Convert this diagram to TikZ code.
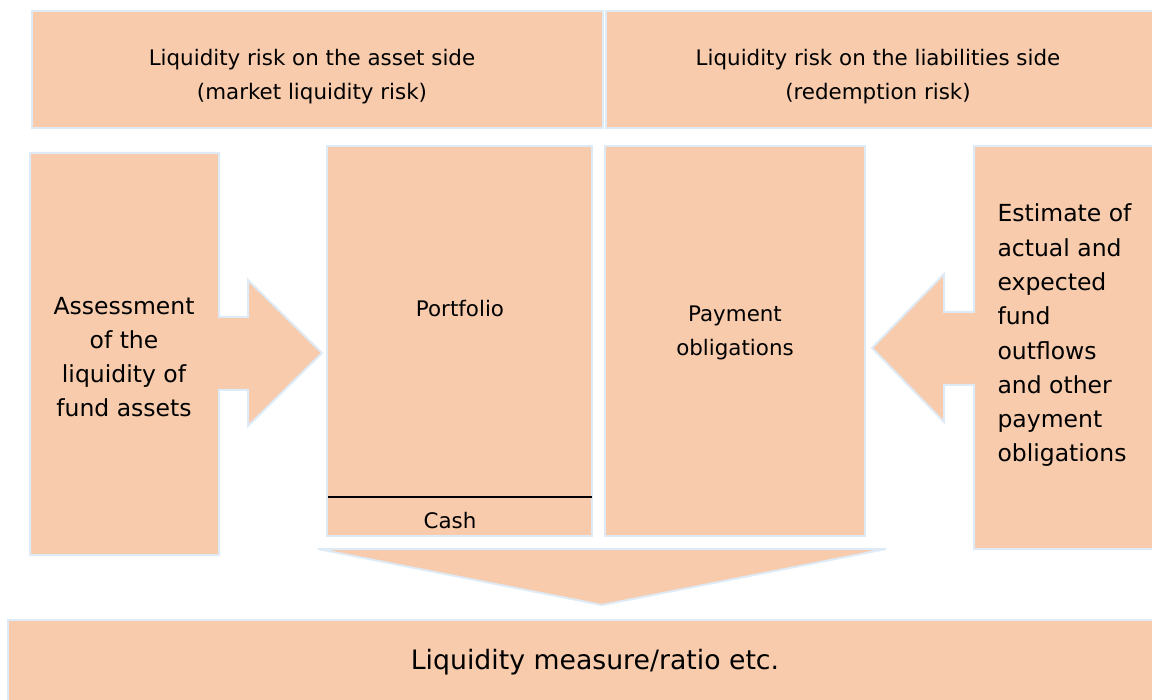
\documentclass[tikz,border=0pt]{standalone}
\usepackage{fontspec}
\setmainfont{DejaVu Sans}
\usetikzlibrary{positioning}
\definecolor{peach}{HTML}{F7CBAC}
\definecolor{paleblue}{HTML}{DEEAF6}
\tikzset{blk/.style={fill=peach,draw=paleblue,line width=2pt},
  small/.style={font=\fontsize{21.4}{34}\selectfont,align=center,anchor=base},
  big/.style={font=\fontsize{23.5}{34.3}\selectfont,align=center,anchor=base}}

\begin{document}
\begin{tikzpicture}[x=1pt,y=-1pt]
\useasboundingbox (0,0) rectangle (1152,700);
% risk headers
\draw[blk] (32,11) rectangle (603,128);
\draw[blk] (606,11) rectangle (1156,128);
% side boxes with block arrows
\draw[blk] (30,153) -- (219,153) -- (219,317) -- (248,317) -- (248,280) -- (322,353)
  -- (248,426) -- (248,390) -- (219,390) -- (219,555) -- (30,555) -- cycle;
\draw[blk] (974,146) -- (1156,146) -- (1156,549) -- (974,549) -- (974,385) -- (944,385)
  -- (944,422) -- (872,348) -- (944,274) -- (944,312) -- (974,312) -- cycle;
% balance sheet
\draw[blk] (327,146) rectangle (592,536);
\draw[blk] (605,146) rectangle (865,536);
\coordinate (cl) at (328,497);
\coordinate (cr) at (592,497);
\draw[line width=1.5pt] (cl) -- (cr);
% down arrow and result
\draw[blk] (318,549) -- (886,549) -- (602,605) -- cycle;
\draw[blk] (8,620) rectangle (1156,704);

% texts (base = last line)
\node[small] (asset) at (312,100) {Liquidity risk on the asset side\\(market liquidity risk)};
\node[small] (liab) at (878,100) {Liquidity risk on the liabilities side\\(redemption risk)};
\node[big] (assess) at (124,417) {Assessment\\of the\\liquidity of\\fund assets};
\node[small] (port) at (460,317) {Portfolio};
\node[small] (pay) at (735,356) {Payment\\obligations};
\node[small] (cash) at (450,529) {Cash};
\node[big,align=left,anchor=base west] (est) at (994,462)
  {Estimate of\\actual and\\expected\\fund\\outflows\\and other\\payment\\obligations};
\node[font=\fontsize{26.7}{32}\selectfont,anchor=base] (ratio) at (595,669) {Liquidity measure/ratio etc.};
\end{tikzpicture}
\end{document}
